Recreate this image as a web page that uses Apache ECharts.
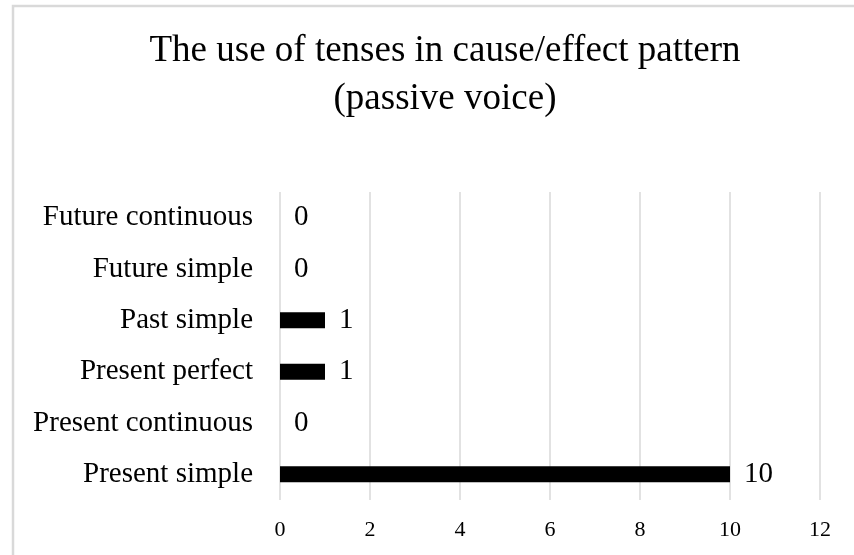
<!DOCTYPE html>
<html>
<head>
<meta charset="utf-8">
<title>The use of tenses in cause/effect pattern (passive voice)</title>
<script src="https://cdn.jsdelivr.net/npm/echarts@6/dist/echarts.min.js"></script>
<style>
  html, body { margin: 0; padding: 0; background: #ffffff; }
  #chart { width: 854px; height: 555px; }
</style>
</head>
<body>
<div id="chart"></div>
<script>
// Tense categories, bottom to top on the category axis
const tenses = [
  'Present simple',
  'Present continuous',
  'Present perfect',
  'Past simple',
  'Future simple',
  'Future continuous'
];
// Number of occurrences for each tense
const counts = [10, 0, 1, 1, 0, 0];
// Value axis range
const axisMin = 0;
const axisMax = 12;
const axisStep = 2;

const serif = '"Liberation Serif", "Times New Roman", serif';

const chart = echarts.init(document.getElementById('chart'), null, { renderer: 'canvas' });

chart.setOption({
  backgroundColor: '#ffffff',
  animation: false,
  textStyle: { fontFamily: serif },
  title: {
    text: 'The use of tenses in cause/effect pattern\n(passive voice)',
    left: 440,
    top: 22,
    textAlign: 'center',
    textStyle: {
      fontFamily: serif,
      fontSize: 37,
      fontWeight: 'normal',
      color: '#000000',
      lineHeight: 48,
      align: 'center'
    }
  },
  graphic: [
    {
      type: 'rect',
      shape: { x: 13, y: 6, width: 900, height: 600 },
      style: { fill: 'none', stroke: '#d9d9d9', lineWidth: 2.5 },
      silent: true
    }
  ],
  grid: {
    left: 280,
    right: 34,
    top: 192,
    bottom: 55,
    containLabel: false
  },
  xAxis: {
    type: 'value',
    min: axisMin,
    max: axisMax,
    interval: axisStep,
    axisLine: { show: false },
    axisTick: { show: false },
    axisLabel: {
      color: '#000000',
      fontFamily: serif,
      fontSize: 22,
      margin: 19
    },
    splitLine: { show: true, lineStyle: { color: '#d9d9d9', width: 1.5 } }
  },
  yAxis: {
    type: 'category',
    data: tenses,
    axisLine: { show: false },
    axisTick: { show: false },
    axisLabel: {
      color: '#000000',
      fontFamily: serif,
      fontSize: 29,
      margin: 27
    },
    splitLine: { show: false }
  },
  series: [
    {
      type: 'bar',
      data: counts,
      barWidth: 16,
      itemStyle: { color: '#000000' },
      label: {
        show: true,
        position: 'right',
        distance: 14,
        color: '#000000',
        fontFamily: serif,
        fontSize: 29
      }
    }
  ]
});
</script>
</body>
</html>
